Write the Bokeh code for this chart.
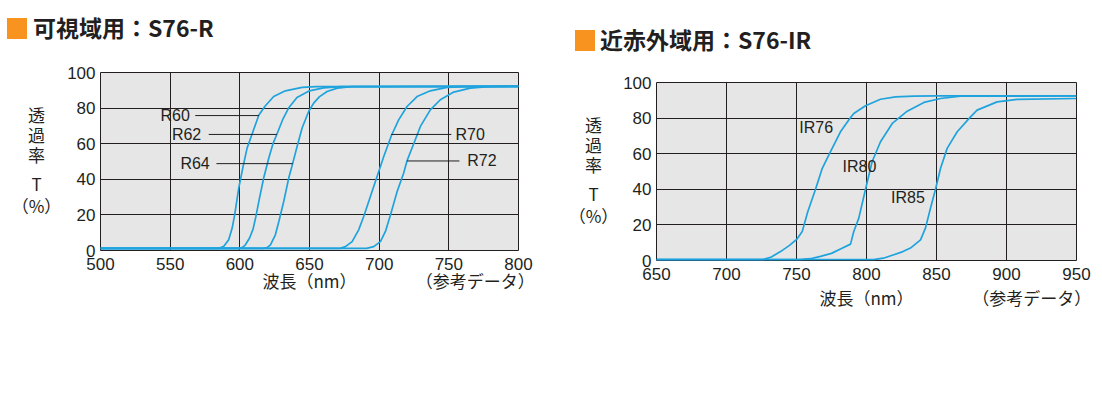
from bokeh.plotting import figure
from bokeh.layouts import row, column
from bokeh.models import Range1d, FixedTicker, Label, LinearAxis, Div
from bokeh.embed import file_html
from bokeh.resources import INLINE

# ---------------- data: visible range (S76-R) ----------------
vis_x_ticks = [500, 550, 600, 650, 700, 750, 800]
y_ticks = [0, 20, 40, 60, 80, 100]

R60_wl = [500, 584, 586, 588.5, 592, 594.5, 596.3, 599.2, 602.1, 605.2, 608.8, 613.6, 617.9, 624.3, 632.7, 644.7, 655, 800]
R60_T = [1.2, 1.2, 1.5, 2.4, 6, 12.6, 20, 35, 46.3, 57.5, 65.4, 76.0, 80.9, 86.5, 89.7, 91.6, 92.1, 92.2]

R62_wl = [500, 600, 602, 604, 607, 609.5, 611.5, 614, 617.2, 620.8, 624, 626.6, 631, 635, 641, 650, 660, 672, 800]
R62_T = [1.2, 1.2, 1.8, 3.2, 7, 12, 19, 29, 41, 52, 60.5, 65.3, 74, 80, 86, 89.7, 91.4, 92.1, 92.2]

R64_wl = [500, 617, 619.5, 622, 625.5, 628, 631.5, 635.1, 638, 641.1, 644.7, 649.4, 653, 657, 662.6, 670, 680, 800]
R64_T = [1.2, 1.2, 1.6, 3.2, 8.8, 16.3, 27.5, 40.7, 49.1, 58.4, 68.8, 78.1, 82.8, 86.3, 89.3, 91.2, 92.1, 92.2]

R70_wl = [500, 672, 675.8, 680.6, 685.3, 688.9, 693.7, 698.5, 703.3, 708.8, 714, 720, 727.2, 736.7, 748.7, 760, 800]
R70_T = [1.2, 1.2, 2.2, 5, 11.6, 19.1, 30.3, 41.6, 52.8, 64.6, 73.4, 80.9, 86.5, 89.7, 91.6, 92.1, 92.2]

R72_wl = [500, 691, 696.1, 700.9, 704.5, 708.1, 712.9, 717.6, 720, 724.8, 729.6, 736.7, 743.9, 753.5, 765.4, 778, 800]
R72_T = [1.2, 1.2, 2.2, 5, 10.7, 20, 33.1, 43.5, 50.4, 60, 69.7, 79, 84.7, 89, 91.2, 92, 92.2]

vis_names = ["R60", "R62", "R64", "R70", "R72"]
vis_wls = [R60_wl, R62_wl, R64_wl, R70_wl, R72_wl]
vis_Ts = [R60_T, R62_T, R64_T, R70_T, R72_T]

# label annotation placement (data units): text anchor x, y, leader line x0 -> x1
vis_label_x = [564.1, 572.3, 578.4, 754.8, 763.2]
vis_label_y = [75.8, 65.2, 48.8, 65.2, 50.3]
vis_label_align = ["right", "right", "right", "left", "left"]
vis_line_x0 = [568.0, 577.7, 583.2, 708.6, 720.0]
vis_line_x1 = [613.7, 626.6, 638.0, 751.8, 757.6]

# ---------------- data: near infrared (S76-IR) ----------------
ir_x_ticks = [650, 700, 750, 800, 850, 900, 950]

IR76_wl = [650, 726, 732, 738.6, 745, 750.5, 754.1, 758.1, 763.6, 768.4, 774.3, 781.4, 788.1, 790.9, 799.3, 810, 820.7, 833.8, 850, 950]
IR76_T = [0.5, 0.5, 2, 5, 8.5, 12.2, 16.3, 27.5, 40, 51.8, 61.1, 72.3, 79.8, 82.6, 86.9, 90.6, 91.9, 92.3, 92.5, 92.5]

IR80_wl = [650, 752, 760, 767.1, 775, 781.4, 788.6, 790.9, 794.5, 799.3, 804, 810, 818.4, 829.1, 841, 852.9, 867.1, 950]
IR80_T = [0.5, 0.5, 1, 2.3, 4, 6.5, 9.2, 16.3, 23.8, 40, 55.5, 66.7, 77, 83.9, 88.8, 91, 92.3, 92.5]

IR85_wl = [650, 805, 812, 819.5, 826, 831.4, 838.6, 842.1, 845.7, 849.3, 852.9, 857.6, 864.8, 874.3, 879, 893.3, 907.6, 950]
IR85_T = [0.5, 0.5, 1.3, 3.2, 5, 7, 11.6, 18.2, 29.4, 40, 51.8, 63, 72.3, 80.7, 84.5, 89.1, 90.5, 91]

ir_names = ["IR76", "IR80", "IR85"]
ir_wls = [IR76_wl, IR80_wl, IR85_wl]
ir_Ts = [IR76_T, IR80_T, IR85_T]
ir_label_x = [764.1, 795.0, 829.6]
ir_label_y = [74.7, 52.8, 35.4]

# ---------------- text ----------------
vis_title = "可視域用：S76-R"
ir_title = "近赤外域用：S76-IR"
y_title_lines = ["透", "過", "率", "T", "（%）"]
y_title_pos = [76.4, 65.2, 53.9, 37.9, 25.3]
x_title = "波長（nm）"
ref_note = "（参考データ）"

# ---------------- styles ----------------
CURVE = "#1fa3dd"
INK = "#231f20"
BG = "#e6e6e6"
ORANGE = "#f7931e"
NUM_FONT = "Liberation Sans"
CJK_FONT = "Noto Sans CJK JP"


def make_fig(xr, xticks, fw, left, right, note_ticks, note_standoff):
    p = figure(x_range=Range1d(*xr), y_range=Range1d(0, 100),
               frame_width=fw, frame_height=178,
               output_backend="svg", toolbar_location=None)
    p.min_border_left = left
    p.min_border_right = right
    p.min_border_top = 20
    p.min_border_bottom = 60
    p.background_fill_color = BG
    p.border_fill_color = "white"
    p.outline_line_color = INK
    p.outline_line_width = 1
    p.xaxis.ticker = FixedTicker(ticks=xticks)
    p.yaxis.ticker = FixedTicker(ticks=y_ticks)
    p.xgrid.ticker = FixedTicker(ticks=xticks)
    p.ygrid.ticker = FixedTicker(ticks=y_ticks)
    p.grid.grid_line_color = INK
    p.grid.grid_line_width = 1
    for ax in (p.xaxis, p.yaxis):
        ax.axis_line_color = None
        ax.major_tick_line_color = None
        ax.minor_tick_line_color = None
        ax.major_tick_out = 0
        ax.major_tick_in = 0
        ax.major_label_text_font = NUM_FONT
        ax.major_label_text_font_size = "17px"
        ax.major_label_text_color = INK
    p.xaxis.major_label_standoff = 7
    p.yaxis.major_label_standoff = 5

    # second row under the numbers: axis name and reference note
    note_axis = LinearAxis(ticker=FixedTicker(ticks=note_ticks),
                           major_label_overrides={note_ticks[0]: x_title, note_ticks[1]: ref_note})
    note_axis.axis_line_color = None
    note_axis.major_tick_line_color = None
    note_axis.minor_tick_line_color = None
    note_axis.major_tick_out = 0
    note_axis.major_tick_in = 0
    try:
        note_axis.major_label_standoff = note_standoff
    except Exception:
        note_axis.major_label_standoff = 0
    note_axis.major_label_text_font = CJK_FONT
    note_axis.major_label_text_font_size = "17px"
    note_axis.major_label_text_color = INK
    p.add_layout(note_axis, "below")
    return p


def make_ytitle(width, cx):
    f = figure(frame_width=width, frame_height=178, x_range=Range1d(0, width), y_range=Range1d(0, 100),
               output_backend="svg", toolbar_location=None,
               x_axis_location=None, y_axis_location=None)
    f.min_border_left = 0
    f.min_border_right = 0
    f.min_border_top = 20
    f.min_border_bottom = 60
    f.outline_line_color = None
    f.grid.visible = False
    f.background_fill_color = "white"
    f.border_fill_color = "white"
    for txt, yy in zip(y_title_lines, y_title_pos):
        f.add_layout(Label(x=cx, y=yy, text=txt, text_font=CJK_FONT, text_font_size="17px",
                           text_align="center", text_baseline="middle", text_color=INK))
    return f


def make_header(width, height, sq_left, sq_top, text_left, text_top, text):
    html = (
        f'<div style="position:relative;width:{width}px;height:{height}px;">'
        f'<div style="position:absolute;left:{sq_left}px;top:{sq_top}px;width:20px;height:21px;'
        f'background:{ORANGE};"></div>'
        f'<div style="position:absolute;left:{text_left}px;top:{text_top}px;white-space:nowrap;'
        f"font-family:'{CJK_FONT}';font-weight:bold;font-size:23px;line-height:23px;color:{INK};\">"
        f'{text}</div></div>'
    )
    return Div(text=html, width=width, height=height, margin=(0, 0, 0, 0))


def add_text(p, x, y, text, size, align):
    p.add_layout(Label(x=x, y=y, text=text, text_font=NUM_FONT, text_font_size=size,
                       text_align=align, text_baseline="middle", text_color=INK))


# ---------- left chart ----------
p1 = make_fig((500, 800), vis_x_ticks, 418, 36, 42, [650, 769], -5)
for wl, T in zip(vis_wls, vis_Ts):
    p1.line(wl, T, line_color=CURVE, line_width=1.7)
p1.segment(x0=vis_line_x0, y0=vis_label_y, x1=vis_line_x1, y1=vis_label_y,
           line_color=INK, line_width=1)
for name, lx, ly, al in zip(vis_names, vis_label_x, vis_label_y, vis_label_align):
    add_text(p1, lx, ly, name, "16px", al)
y1 = make_ytitle(64, 36)
h1 = make_header(560, 52, 7, 18, 33, 16, vis_title)

# ---------- right chart ----------
p2 = make_fig((650, 950), ir_x_ticks, 420, 36, 18, [800, 918], 2)
for wl, T in zip(ir_wls, ir_Ts):
    p2.line(wl, T, line_color=CURVE, line_width=1.7)
for name, lx, ly in zip(ir_names, ir_label_x, ir_label_y):
    add_text(p2, lx, ly, name, "16px", "center")
y2 = make_ytitle(60, 33)
h2 = make_header(534, 62, 15, 30, 40, 28, ir_title)

layout = row(column(h1, row(y1, p1)), column(h2, row(y2, p2)))
open("out.html", "w").write(file_html(layout, INLINE))
